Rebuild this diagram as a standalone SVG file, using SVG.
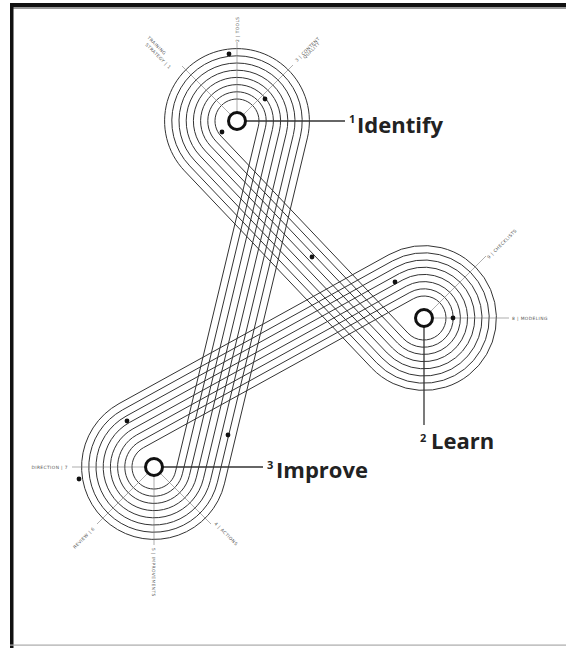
<svg xmlns="http://www.w3.org/2000/svg" width="566" height="648" viewBox="0 0 566 648">
<style>
.strand{fill:none;stroke:#333;stroke-width:1}
.tick{stroke:#777;stroke-width:0.6;fill:none}
.lead{stroke:#333;stroke-width:1.3;fill:none}
.hub{fill:#fff;stroke:#111;stroke-width:3}
.dot{fill:#111}
.small{font-family:"DejaVu Sans","Open Sans",sans-serif;font-size:4.4px;fill:#555;letter-spacing:0.4px}
.big{font-family:"Open Sans","DejaVu Sans",sans-serif;font-weight:700;font-size:22px;fill:#222}
.sup{font-family:"Open Sans","DejaVu Sans",sans-serif;font-weight:700;font-size:11px;fill:#222}
</style>
<rect x="0" y="0" width="566" height="648" fill="#fff"/>
<g id="frame">
<rect x="10" y="3" width="556" height="4" fill="#111"/>
<rect x="10" y="7" width="556" height="2" fill="#999"/>
<rect x="10" y="3" width="3.5" height="645" fill="#111"/>
<rect x="10" y="644.5" width="556" height="1.2" fill="#aaa"/>
</g>
<g id="connectors">
<path class="strand" d="M221.04,136.15 L408.04,333.15 A22,22 0 1 0 413.37,298.74 L143.37,447.74 A22,22 0 1 0 175.39,472.13 L258.39,126.13 A22,22 0 1 0 221.04,136.15 Z"/>
<path class="strand" d="M215.82,141.10 L402.82,338.10 A29.2,29.2 0 1 0 409.89,292.44 L139.89,441.44 A29.2,29.2 0 1 0 182.39,473.81 L265.39,127.81 A29.2,29.2 0 1 0 215.82,141.10 Z"/>
<path class="strand" d="M210.60,146.06 L397.60,343.06 A36.4,36.4 0 1 0 406.41,286.13 L136.41,435.13 A36.4,36.4 0 1 0 189.40,475.49 L272.40,129.49 A36.4,36.4 0 1 0 210.60,146.06 Z"/>
<path class="strand" d="M205.38,151.02 L392.38,348.02 A43.6,43.6 0 1 0 402.93,279.83 L132.93,428.83 A43.6,43.6 0 1 0 196.40,477.17 L279.40,131.17 A43.6,43.6 0 1 0 205.38,151.02 Z"/>
<path class="strand" d="M200.15,155.98 L387.15,352.98 A50.8,50.8 0 1 0 399.45,273.52 L129.45,422.52 A50.8,50.8 0 1 0 203.40,478.85 L286.40,132.85 A50.8,50.8 0 1 0 200.15,155.98 Z"/>
<path class="strand" d="M194.93,160.93 L381.93,357.93 A58,58 0 1 0 395.97,267.22 L125.97,416.22 A58,58 0 1 0 210.40,480.53 L293.40,134.53 A58,58 0 1 0 194.93,160.93 Z"/>
<path class="strand" d="M189.71,165.89 L376.71,362.89 A65.2,65.2 0 1 0 392.50,260.92 L122.50,409.92 A65.2,65.2 0 1 0 217.40,482.21 L300.40,136.21 A65.2,65.2 0 1 0 189.71,165.89 Z"/>
<path class="strand" d="M184.49,170.85 L371.49,367.85 A72.4,72.4 0 1 0 389.02,254.61 L119.02,403.61 A72.4,72.4 0 1 0 224.40,483.89 L307.40,137.89 A72.4,72.4 0 1 0 184.49,170.85 Z"/>
<line class="tick" x1="237" y1="121" x2="237" y2="42"/>
<line class="tick" x1="237" y1="121" x2="182" y2="66"/>
<line class="tick" x1="237" y1="121" x2="293" y2="65"/>
<line class="tick" x1="424" y1="318" x2="486" y2="256"/>
<line class="tick" x1="424" y1="318" x2="509" y2="318"/>
<line class="tick" x1="154" y1="467" x2="72" y2="467"/>
<line class="tick" x1="154" y1="467" x2="97" y2="524"/>
<line class="tick" x1="154" y1="467" x2="154" y2="545"/>
<line class="tick" x1="154" y1="467" x2="211" y2="524"/>
<line class="lead" x1="246" y1="121" x2="345" y2="121"/>
<line class="lead" x1="424" y1="327" x2="424" y2="425"/>
<line class="lead" x1="163" y1="467" x2="263" y2="467"/>
<circle class="dot" cx="229" cy="54" r="2.4"/>
<circle class="dot" cx="265" cy="99" r="2.4"/>
<circle class="dot" cx="222" cy="132" r="2.4"/>
<circle class="dot" cx="312" cy="257" r="2.4"/>
<circle class="dot" cx="395" cy="282" r="2.4"/>
<circle class="dot" cx="453" cy="318" r="2.4"/>
<circle class="dot" cx="127" cy="421" r="2.4"/>
<circle class="dot" cx="228" cy="435" r="2.4"/>
<circle class="dot" cx="79" cy="479" r="2.4"/>
</g>
<g id="identify">
<circle class="hub" cx="237" cy="121" r="8.5"/>
<text class="sup" x="349" y="123">1</text>
<text class="big" x="357" y="133">Identify</text>
<text class="small" transform="translate(147,38) rotate(45)">TRAINING</text>
<text class="small" transform="translate(145,45) rotate(45)">STRATEGY | 1</text>
<text class="small" transform="translate(239,42) rotate(-90)">2 | TOOLS</text>
<text class="small" transform="translate(297,62) rotate(-45)">3 | CONTENT</text>
<text class="small" transform="translate(305,59) rotate(-45)">QUALITY</text>
</g>
<g id="learn">
<circle class="hub" cx="424" cy="318" r="8.5"/>
<text class="sup" x="420" y="442">2</text>
<text class="big" x="431" y="449">Learn</text>
<text class="small" transform="translate(489,259) rotate(-45)">9 | CHECKLISTS</text>
<text class="small" x="512" y="320">8 | MODELING</text>
</g>
<g id="improve">
<circle class="hub" cx="154" cy="467" r="8.5"/>
<text class="sup" x="267" y="469">3</text>
<text class="big" x="276" y="478">Improve</text>
<text class="small" x="68" y="469" text-anchor="end">DIRECTION | 7</text>
<text class="small" transform="translate(95,529) rotate(-45)" text-anchor="end">REVIEW | 6</text>
<text class="small" transform="translate(152,548) rotate(90)">5 | IMPROVEMENTS</text>
<text class="small" transform="translate(214,524) rotate(45)">4 | ACTIONS</text>
</g>
</svg>
